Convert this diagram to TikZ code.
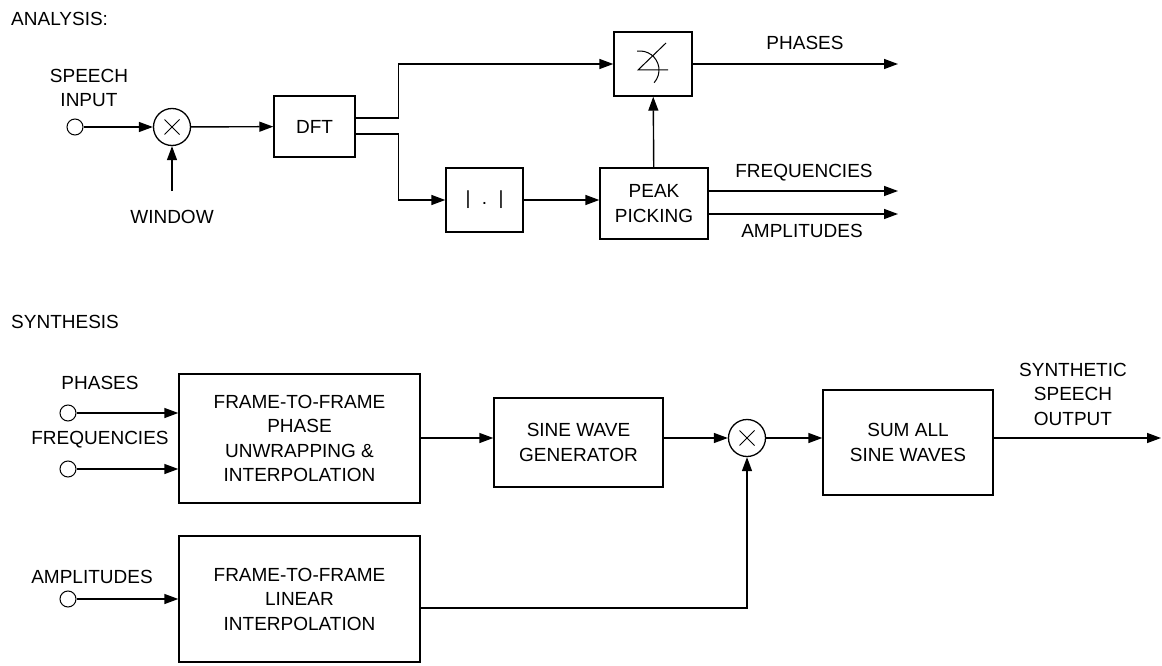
\documentclass[tikz,border=0pt]{standalone}
\usepackage{fontspec}
\setmainfont{Liberation Sans}
\usetikzlibrary{arrows.meta,calc}
\begin{document}
\begin{tikzpicture}[x=1pt,y=-1pt,
  every node/.style={font=\fontsize{19}{24.5}\selectfont, inner sep=0pt},
  blk/.style={draw, line width=1.4pt, align=center, rectangle},
  lbl/.style={align=center},
  term/.style={draw, line width=1pt, circle, minimum size=16pt},
  mult/.style={draw, line width=1.3pt, circle, minimum size=37pt,
    path picture={\draw[line width=1pt] ([shift={(-7.5pt,-7.5pt)}]path picture bounding box.center) -- ([shift={(7.5pt,7.5pt)}]path picture bounding box.center);
    \draw[line width=1pt] ([shift={(-7.5pt,7.5pt)}]path picture bounding box.center) -- ([shift={(7.5pt,-7.5pt)}]path picture bounding box.center);}},
  arr/.style={line width=1.4pt, -{Triangle[length=14pt,width=10pt]}},
  ln/.style={line width=1.4pt}]
\useasboundingbox (0,0) rectangle (1162,666);

% ---------- ANALYSIS ----------
\node[anchor=west] (hana) at (11,19) {ANALYSIS:};
\node[lbl] (lspeech) at (89,88) {SPEECH\\INPUT};
\node[term] (in1) at (75,127) {};
\node[mult] (mul1) at (172,127) {};
\coordinate (win) at (172,191);
\node[lbl] (lwin) at (172,217) {WINDOW};
\node[blk, minimum width=81pt, minimum height=61pt] (dft) at (314.5,126.5) {DFT};
\node[blk, minimum width=77pt, minimum height=64pt] (abs) at (484.5,200) {|\hspace{0.6em}.\hspace{0.6em}|};
\node[blk, minimum width=108pt, minimum height=71pt] (peak) at (654,203.5) {PEAK\\PICKING};
\node[blk, minimum width=78pt, minimum height=64pt] (phase) at (653,64) {};
% angle symbol
\draw[line width=1pt] (668,70) -- (638,70) -- (666,43);
\draw[line width=1pt] (640,70) ++(-99:19) arc[start angle=-99, end angle=42, radius=19];

\coordinate (phend) at (898,64);
\coordinate (frend) at (898,191);
\coordinate (amend) at (898,214);
\node[lbl] (lph) at (805,43) {PHASES};
\node[lbl] (lfr) at (804,173) {FREQUENCIES};
\node[lbl] (lam) at (802,231) {AMPLITUDES};

\draw[arr] (in1) -- (mul1);
\draw[arr] (win) -- (mul1);
\draw[arr] (mul1) -- (dft);
\draw[arr] ([yshift=8.5pt]dft.east) -- ++(43,0) |- (phase.west);
\draw[arr] ([yshift=-7.5pt]dft.east) -- ++(43,0) |- (abs.west);
\draw[arr] (abs.east) -- (abs.east -| peak.west);
\draw[arr] (peak) -- (phase);
\draw[arr] (phase.east) -- (phend);
\draw[arr] (peak.east |- frend) -- (frend);
\draw[arr] (peak.east |- amend) -- (amend);

% ---------- SYNTHESIS ----------
\node[anchor=west] (hsyn) at (11,322) {SYNTHESIS};
\node[lbl] (lp) at (100,383) {PHASES};
\node[lbl] (lf) at (100,440) {FREQUENCIES};
\node[lbl] (la) at (92,577) {AMPLITUDES};
\node[term] (cp) at (68,413) {};
\node[term] (cf) at (68,469) {};
\node[term] (ca) at (68,599) {};
\node[blk, minimum width=241pt, minimum height=129pt] (box1) at (299.5,438.5) {FRAME-TO-FRAME\\PHASE\\UNWRAPPING \&\\INTERPOLATION};
\node[blk, minimum width=241pt, minimum height=126pt] (box2) at (299.5,599) {FRAME-TO-FRAME\\LINEAR\\INTERPOLATION};
\node[blk, minimum width=169pt, minimum height=89pt] (sine) at (578.5,442.5) {SINE WAVE\\GENERATOR};
\node[mult] (mul2) at (747,438) {};
\node[blk, minimum width=170pt, minimum height=105pt] (sum) at (908,442.5) {SUM ALL\\SINE WAVES};
\node[lbl] (lout) at (1073,394) {SYNTHETIC\\SPEECH\\OUTPUT};
\coordinate (outend) at (1161,438);

\draw[arr] (cp) -- (cp -| box1.west);
\draw[arr] (cf) -- (cf -| box1.west);
\draw[arr] (ca) -- (ca -| box2.west);
\draw[arr] (box1.east |- mul2) -- (sine.west |- mul2);
\draw[arr] (sine.east |- mul2) -- (mul2);
\draw[arr] ([yshift=-9pt]box2.east) -| (mul2);
\draw[arr] (mul2) -- (mul2 -| sum.west);
\draw[arr] (sum.east |- mul2) -- (outend);
\end{tikzpicture}
\end{document}
